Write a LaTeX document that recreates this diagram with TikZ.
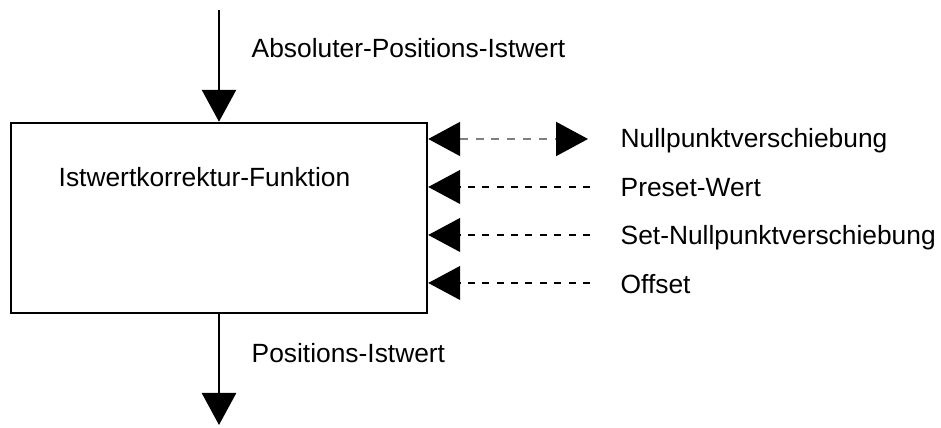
\documentclass[tikz,border=0pt]{standalone}
\usepackage{fontspec}
\setmainfont{Liberation Sans}
\usetikzlibrary{arrows.meta}

\tikzset{
  signal/.style={line width=0.8pt,-{Triangle[length=3.2mm,width=3.4mm]}},
  param/.style={line width=0.35pt,dash pattern=on 2pt off 2.1pt},
  lbl/.style={inner sep=0pt,anchor=base west,font=\fontsize{7.5}{9}\selectfont}
}

\begin{document}
\begin{tikzpicture}
  \useasboundingbox (0,0) rectangle (9.41,4.28);
  \node[draw,line width=0.7pt,minimum width=4.16cm,minimum height=1.90cm,inner sep=0pt] (korr) at (2.19,2.10) {};
  \node[lbl] (korrtxt) at (0.58,2.41) {Istwertkorrektur-Funktion};

  \coordinate (ein) at (2.19,4.18);
  \coordinate (aus) at (2.19,0.03);
  \draw[signal] (ein) -- (korr.north);
  \draw[signal] (korr.south) -- (aus);
  \node[lbl] (eintxt) at (2.51,3.70) {Absoluter-Positions-Istwert};
  \node[lbl] (austxt) at (2.51,0.65) {Positions-Istwert};

  \coordinate (np) at (5.88,2.89);
  \coordinate (ps) at (5.90,2.41);
  \coordinate (snp) at (5.90,1.93);
  \coordinate (off) at (5.90,1.45);
  \draw[param,gray,line width=0.6pt,dash pattern=on 2.3pt off 2.2pt,
    {Triangle[length=3.2mm,width=3.4mm,color=black]}-{Triangle[length=3.2mm,width=3.4mm,color=black]}]
    (korr.east |- np) -- (np);
  \draw[param,-{Triangle[length=3.2mm,width=3.4mm]}] (ps) -- (korr.east |- ps);
  \draw[param,-{Triangle[length=3.2mm,width=3.4mm]}] (snp) -- (korr.east |- snp);
  \draw[param,-{Triangle[length=3.2mm,width=3.4mm]}] (off) -- (korr.east |- off);

  \node[lbl] (nptxt) at (6.20,2.80) {Nullpunktverschiebung};
  \node[lbl] (pstxt) at (6.20,2.31) {Preset-Wert};
  \node[lbl] (snptxt) at (6.20,1.83) {Set-Nullpunktverschiebung};
  \node[lbl] (offtxt) at (6.20,1.34) {Offset};
\end{tikzpicture}
\end{document}
